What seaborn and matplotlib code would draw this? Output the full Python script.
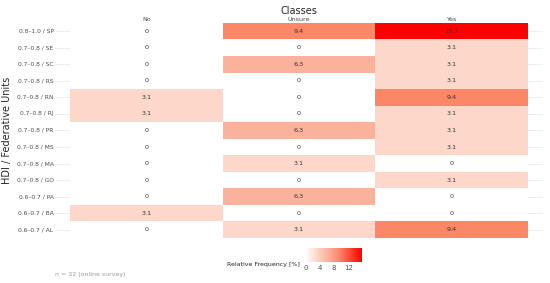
import matplotlib
matplotlib.use("Agg")
import matplotlib.pyplot as plt
from matplotlib.colors import LinearSegmentedColormap
import numpy as np
import pandas as pd
import seaborn as sns

units = ["0.8–1.0 / SP", "0.7–0.8 / SE", "0.7–0.8 / SC", "0.7–0.8 / RS", "0.7–0.8 / RN",
         "0.7–0.8 / RJ", "0.7–0.8 / PR", "0.7–0.8 / MS", "0.7–0.8 / MA", "0.7–0.8 / GO",
         "0.6–0.7 / PA", "0.6–0.7 / BA", "0.6–0.7 / AL"]
classes = ["No", "Unsure", "Yes"]
no_vals = [0, 0, 0, 0, 3.1, 3.1, 0, 0, 0, 0, 0, 3.1, 0]
unsure_vals = [9.4, 0, 6.3, 0, 0, 0, 6.3, 0, 3.1, 0, 6.3, 0, 3.1]
yes_vals = [15.7, 3.1, 3.1, 3.1, 9.4, 3.1, 3.1, 3.1, 0, 3.1, 0, 0, 9.4]

data = pd.DataFrame({"No": no_vals, "Unsure": unsure_vals, "Yes": yes_vals}, index=units)
labels = data.map(lambda v: "0" if v == 0 else f"{v:.1f}")

vmax = 15.7
cmap = LinearSegmentedColormap.from_list(
    "freq",
    [(0, "#ffffff"), (3.1 / vmax, "#fdd8ca"), (6.3 / vmax, "#fbb29c"),
     (9.4 / vmax, "#fc8767"), (1.0, "#ff0000")])

sns.set_style("white")
plt.rcParams["font.family"] = ["DejaVu Sans"]

fig = plt.figure(figsize=(5.5, 2.83), dpi=100)
ax = fig.add_axes([0.1, 0.159, 0.887, 0.76])
cax = fig.add_axes([0.555, 0.074, 0.103, 0.05])

sns.heatmap(data, ax=ax, cmap=cmap, vmin=0, vmax=vmax, annot=labels, fmt="",
            annot_kws={"fontsize": 4.6, "color": "#333333"}, linewidths=0,
            cbar_ax=cax, cbar_kws={"orientation": "horizontal", "ticks": [0, 4, 8, 12]})

ax.set_xlim(-0.1, 3.1)
ax.set_axisbelow(True)
ax.grid(axis="y", color="#ebebeb", linewidth=0.6)
ax.xaxis.tick_top()
ax.xaxis.set_label_position("top")
ax.set_xlabel("Classes", fontsize=7, labelpad=2)
ax.set_ylabel("HDI / Federative Units", fontsize=7, labelpad=3)
ax.tick_params(axis="x", length=0, labelsize=4.6, pad=1, colors="#4d4d4d")
ax.tick_params(axis="y", length=0, labelsize=4.3, pad=1, colors="#4d4d4d", rotation=0)
for s in ax.spines.values():
    s.set_visible(False)

cax.tick_params(labelsize=5, length=0, pad=2, colors="#4d4d4d")
cax.set_xticklabels(["0", "4", "8", "12"])
for s in cax.spines.values():
    s.set_visible(False)
fig.text(0.545, 0.065, "Relative Frequency [%]", fontsize=4.5, ha="right", va="center")
fig.text(0.1, 0.03, "n = 32 (online survey)", fontsize=4.5, color="#999999", ha="left", va="center")

fig.savefig("out.png", dpi=100)
